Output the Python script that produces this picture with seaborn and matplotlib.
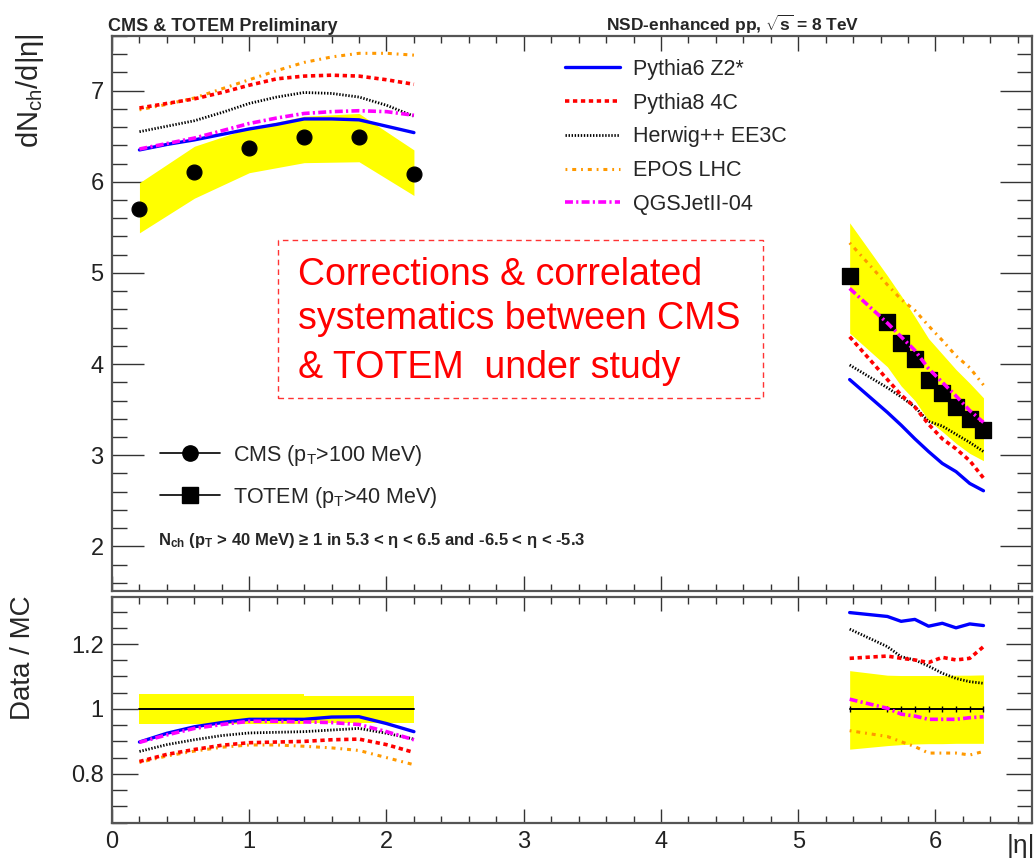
import matplotlib
matplotlib.use("Agg")
import matplotlib.pyplot as plt
import pandas as pd
import seaborn as sns
from matplotlib.lines import Line2D
from matplotlib.patches import Rectangle
from matplotlib.ticker import FormatStrFormatter, MultipleLocator

# ---- data ----
cms_eta = [0.2, 0.6, 1.0, 1.4, 1.8, 2.2]
cms_dndeta = [5.70, 6.11, 6.37, 6.49, 6.49, 6.09]
cms_sys_lo = [5.44, 5.82, 6.10, 6.21, 6.22, 5.85]
cms_sys_hi = [5.99, 6.39, 6.59, 6.72, 6.75, 6.35]
cms_ratio = [1.0, 1.0, 1.0, 1.0, 1.0, 1.0]
cms_ratio_lo = [0.953, 0.953, 0.955, 0.957, 0.958, 0.958]
cms_ratio_hi = [1.046, 1.046, 1.045, 1.040, 1.040, 1.040]

totem_eta = [5.375, 5.65, 5.75, 5.85, 5.95, 6.05, 6.15, 6.25, 6.35]
totem_dndeta = [4.97, 4.46, 4.23, 4.06, 3.82, 3.68, 3.53, 3.40, 3.28]
totem_sys_lo = [4.34, 3.97, 3.76, 3.60, 3.38, 3.26, 3.13, 3.02, 2.94]
totem_sys_hi = [5.55, 4.97, 4.75, 4.52, 4.28, 4.11, 3.94, 3.79, 3.63]
totem_ratio = [1.0, 1.0, 1.0, 1.0, 1.0, 1.0, 1.0, 1.0, 1.0]
totem_ratio_lo = [0.876, 0.887, 0.890, 0.892, 0.893, 0.893, 0.894, 0.894, 0.894]
totem_ratio_hi = [1.118, 1.104, 1.103, 1.103, 1.103, 1.103, 1.104, 1.104, 1.105]

mc_eta_central = [0.2, 0.4, 0.6, 0.8, 1.0, 1.2, 1.4, 1.6, 1.8, 2.0, 2.2]
mc_eta_forward = totem_eta

models = ["Pythia6 Z2*", "Pythia8 4C", "Herwig++ EE3C", "EPOS LHC", "QGSJetII-04"]

mc_central = {
    "Pythia6 Z2*":   [6.35, 6.41, 6.46, 6.52, 6.58, 6.63, 6.69, 6.69, 6.68, 6.61, 6.54],
    "Pythia8 4C":    [6.81, 6.86, 6.91, 6.98, 7.06, 7.13, 7.16, 7.17, 7.16, 7.12, 7.07],
    "Herwig++ EE3C": [6.55, 6.61, 6.67, 6.76, 6.86, 6.93, 6.98, 6.97, 6.93, 6.84, 6.72],
    "EPOS LHC":      [6.79, 6.85, 6.92, 7.02, 7.12, 7.22, 7.31, 7.37, 7.41, 7.41, 7.39],
    "QGSJetII-04":   [6.36, 6.42, 6.48, 6.56, 6.64, 6.70, 6.75, 6.77, 6.78, 6.77, 6.73],
}
mc_forward = {
    "Pythia6 Z2*":   [3.83, 3.47, 3.33, 3.18, 3.04, 2.91, 2.82, 2.69, 2.61],
    "Pythia8 4C":    [4.30, 3.83, 3.66, 3.53, 3.34, 3.18, 3.07, 2.94, 2.75],
    "Herwig++ EE3C": [3.99, 3.74, 3.64, 3.53, 3.37, 3.32, 3.23, 3.14, 3.04],
    "EPOS LHC":      [5.33, 4.87, 4.71, 4.59, 4.42, 4.26, 4.09, 3.96, 3.77],
    "QGSJetII-04":   [4.83, 4.45, 4.30, 4.15, 3.95, 3.80, 3.65, 3.49, 3.36],
}
ratio_central = {
    "Pythia6 Z2*":   [0.898, 0.925, 0.945, 0.958, 0.968, 0.968, 0.968, 0.975, 0.976, 0.955, 0.930],
    "Pythia8 4C":    [0.838, 0.860, 0.875, 0.888, 0.896, 0.898, 0.900, 0.905, 0.907, 0.890, 0.866],
    "Herwig++ EE3C": [0.869, 0.890, 0.905, 0.918, 0.926, 0.928, 0.930, 0.935, 0.940, 0.925, 0.907],
    "EPOS LHC":      [0.835, 0.855, 0.870, 0.882, 0.889, 0.889, 0.885, 0.880, 0.872, 0.850, 0.828],
    "QGSJetII-04":   [0.897, 0.920, 0.940, 0.952, 0.962, 0.962, 0.960, 0.958, 0.952, 0.930, 0.905],
}
ratio_forward = {
    "Pythia6 Z2*":   [1.297, 1.285, 1.270, 1.276, 1.255, 1.264, 1.250, 1.262, 1.257],
    "Pythia8 4C":    [1.156, 1.163, 1.156, 1.151, 1.143, 1.159, 1.151, 1.156, 1.192],
    "Herwig++ EE3C": [1.246, 1.192, 1.161, 1.151, 1.132, 1.110, 1.094, 1.084, 1.079],
    "EPOS LHC":      [0.933, 0.915, 0.899, 0.884, 0.864, 0.864, 0.864, 0.858, 0.869],
    "QGSJetII-04":   [1.030, 1.002, 0.984, 0.978, 0.968, 0.968, 0.968, 0.973, 0.976],
}

styles = {
    "Pythia6 Z2*":   dict(color="#0000ff", linewidth=2.4, linestyle="-"),
    "Pythia8 4C":    dict(color="#ff0000", linewidth=2.6, linestyle=(0, (1.2, 1.0))),
    "Herwig++ EE3C": dict(color="black", linewidth=2.0, linestyle=(0, (0.5, 0.6))),
    "EPOS LHC":      dict(color="#ff9900", linewidth=2.2, linestyle=(0, (0.6, 1.6, 1.3, 1.6))),
    "QGSJetII-04":   dict(color="#ff00ff", linewidth=2.6, linestyle=(0, (2.2, 0.9, 0.6, 0.9))),
}

rows = []
for name in models:
    for e, v, r in zip(mc_eta_central, mc_central[name], ratio_central[name]):
        rows.append(dict(model=name, region="central", eta=e, dndeta=v, ratio=r))
    for e, v, r in zip(mc_eta_forward, mc_forward[name], ratio_forward[name]):
        rows.append(dict(model=name, region="forward", eta=e, dndeta=v, ratio=r))
mc = pd.DataFrame(rows)

# ---- style ----
sns.set_style("ticks")
plt.rcParams["font.family"] = ["Liberation Sans", "DejaVu Sans"]
plt.rcParams["mathtext.fontset"] = "custom"
plt.rcParams["mathtext.rm"] = "Liberation Sans"
plt.rcParams["mathtext.it"] = "Liberation Sans:italic"
plt.rcParams["mathtext.bf"] = "Liberation Sans:bold"

W, H = 1035, 861
fig = plt.figure(figsize=(W / 100, H / 100), dpi=100)
ax_top = fig.add_axes([112 / W, 1 - 591 / H, 919.5 / W, 555 / H])
ax_bot = fig.add_axes([112 / W, 1 - 822.5 / H, 919.5 / W, 225.5 / H])

# ---- top panel ----
ax_top.fill_between(cms_eta, cms_sys_lo, cms_sys_hi, color="#ffff00", lw=0, zorder=1)
ax_top.fill_between(totem_eta, totem_sys_lo, totem_sys_hi, color="#ffff00", lw=0, zorder=1)
sns.scatterplot(x=cms_eta, y=cms_dndeta, marker="o", s=115, color="black",
                edgecolor="black", ax=ax_top, zorder=2)
sns.scatterplot(x=totem_eta, y=totem_dndeta, marker="s", s=140, color="black",
                edgecolor="black", ax=ax_top, zorder=2)
for (name, region), sub in mc.groupby(["model", "region"]):
    sns.lineplot(data=sub, x="eta", y="dndeta", ax=ax_top, zorder=3, **styles[name])

# ---- ratio panel ----
ax_bot.fill_between(cms_eta, cms_ratio_lo, cms_ratio_hi, step="post",
                    color="#ffff00", lw=0, zorder=1)
ax_bot.fill_between(totem_eta, totem_ratio_lo, totem_ratio_hi, color="#ffff00", lw=0, zorder=1)
ax_bot.plot(cms_eta, cms_ratio, color="black", lw=1.4, zorder=2)
ax_bot.plot(totem_eta, totem_ratio, color="black", lw=1.4, marker="|", ms=5, zorder=2)
for (name, region), sub in mc.groupby(["model", "region"]):
    sns.lineplot(data=sub, x="eta", y="ratio", ax=ax_bot, zorder=3, **styles[name])

# ---- axes cosmetics (ROOT look) ----
for ax in (ax_top, ax_bot):
    ax.set_xlim(0, 6.7)
    ax.set_xlabel("")
    ax.set_ylabel("")
    ax.xaxis.set_major_locator(MultipleLocator(1))
    ax.xaxis.set_minor_locator(MultipleLocator(0.2))
    ax.tick_params(which="both", direction="in", top=True, right=True,
                   color="#333333", width=1.0, labelsize=17, pad=6,
                   labelcolor="#222222")
    for sp in ax.spines.values():
        sp.set_color("#555555")
        sp.set_linewidth(1.6)

ax_top.set_ylim(1.51, 7.6)
ax_top.yaxis.set_major_locator(MultipleLocator(1))
ax_top.yaxis.set_minor_locator(MultipleLocator(0.2))
ax_top.tick_params(axis="y", which="major", length=23)
ax_top.tick_params(axis="y", which="minor", length=11)
ax_top.tick_params(axis="x", which="major", length=11, labelbottom=False)
ax_top.tick_params(axis="x", which="minor", length=5)

ax_bot.set_ylim(0.65, 1.345)
ax_bot.yaxis.set_major_locator(MultipleLocator(0.2))
ax_bot.yaxis.set_minor_locator(MultipleLocator(0.05))
ax_bot.yaxis.set_major_formatter(FormatStrFormatter("%g"))
ax_bot.xaxis.set_major_formatter(FormatStrFormatter("%g"))
ax_bot.tick_params(axis="y", which="major", length=19)
ax_bot.tick_params(axis="y", which="minor", length=11)
ax_bot.tick_params(axis="x", which="major", length=10)
ax_bot.tick_params(axis="x", which="minor", length=5)

# ---- legends ----
model_handles = [Line2D([], [], **styles[m]) for m in models]
leg1 = ax_top.legend(model_handles, models, loc="upper left",
                     bbox_to_anchor=(565 / W, 1 - 59 / H), bbox_transform=fig.transFigure,
                     frameon=False, fontsize=15.5, handlelength=2.56, handletextpad=0.6,
                     labelspacing=0.59, borderpad=0, borderaxespad=0)
ax_top.add_artist(leg1)

data_handles = [
    Line2D([], [], color="black", lw=1.2, marker="o", ms=11),
    Line2D([], [], color="black", lw=1.2, marker="s", ms=11),
]
data_labels = [r"CMS (p$_{\mathrm{T}}$>100 MeV)", r"TOTEM (p$_{\mathrm{T}}$>40 MeV)"]
ax_top.legend(data_handles, data_labels, loc="upper left", numpoints=1,
              bbox_to_anchor=(160 / W, 1 - 443 / H), bbox_transform=fig.transFigure,
              frameon=False, fontsize=15.5, handlelength=2.8, handletextpad=0.6,
              labelspacing=0.78, borderpad=0, borderaxespad=0)

# ---- texts ----
fig.text(108 / W, 1 - 31 / H, "CMS & TOTEM Preliminary", fontsize=13,
         fontweight="bold", va="baseline")
fig.text(606 / W, 1 - 31 / H, r"NSD-enhanced pp, $\mathbf{\sqrt{s}}$ = 8 TeV", fontsize=12.5,
         fontweight="bold", va="baseline")
fig.text(30 / W, 1 - 33 / H, r"dN$_{\mathrm{ch}}$/d|η|", rotation=90, ha="center",
         va="top", fontsize=21)
fig.text(23 / W, 1 - 595 / H, "Data / MC", rotation=90, ha="center", va="top", fontsize=20)
fig.text(1021 / W, 1 - 846 / H, "|η|", ha="center", va="center", fontsize=19)
fig.text(158 / W, 1 - 545 / H,
         r"N$_{\mathbf{ch}}$ (p$_{\mathbf{T}}$ > 40 MeV) ≥ 1 in 5.3 < η < 6.5 and -6.5 < η < -5.3",
         fontsize=12, fontweight="bold", va="baseline")

fig.add_artist(Rectangle((278 / W, 1 - 398 / H), 485 / W, 158 / H, transform=fig.transFigure,
                         fill=False, edgecolor="#ff3333", lw=1.0, linestyle=(0, (4, 3))))
for line, base in zip(["Corrections & correlated", "systematics between CMS",
                       "& TOTEM  under study"], [285, 329, 378]):
    fig.text(298 / W, 1 - base / H, line, color="#ff0000", fontsize=27, va="baseline")

fig.savefig("out.png", dpi=100)
